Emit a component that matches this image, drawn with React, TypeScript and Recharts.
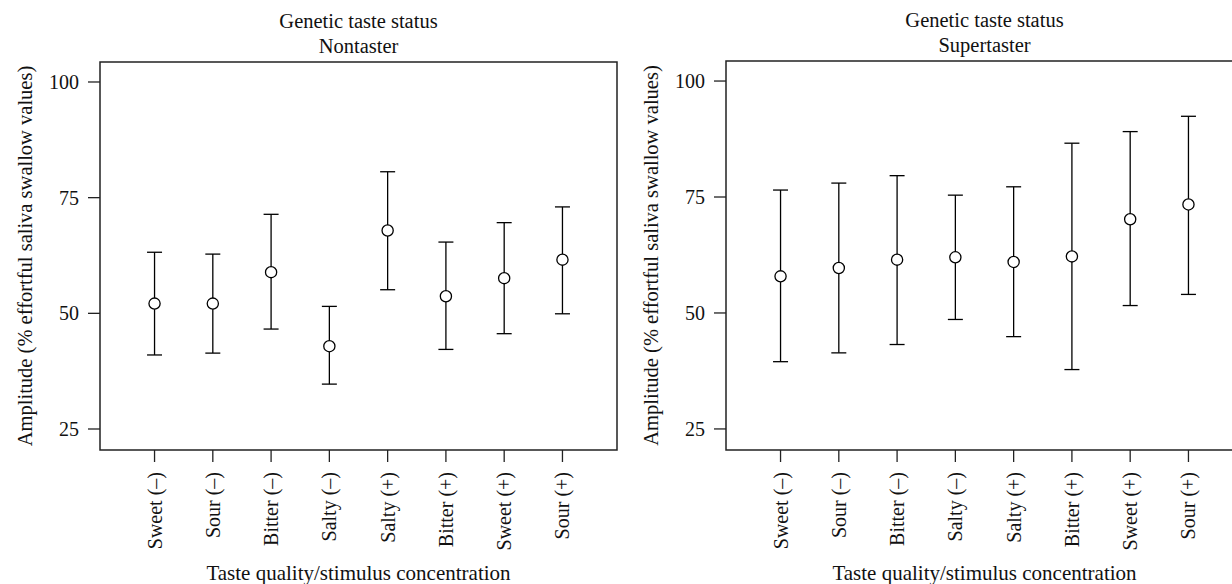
import React from "react";
import { ScatterChart, Scatter, XAxis, YAxis, ErrorBar, ReferenceArea, Label } from "recharts";

const FONT = '"Liberation Serif", "DejaVu Serif", serif';

const categories = [
  "Sweet (–)",
  "Sour (–)",
  "Bitter (–)",
  "Salty (–)",
  "Salty (+)",
  "Bitter (+)",
  "Sweet (+)",
  "Sour (+)",
];

const nontasterMean = [52.1, 52.1, 58.9, 42.9, 67.9, 53.7, 57.6, 61.6];
const nontasterLow = [41.0, 41.4, 46.6, 34.7, 55.1, 42.2, 45.6, 49.9];
const nontasterHigh = [63.2, 62.8, 71.4, 51.5, 80.6, 65.4, 69.6, 73.0];

const supertasterMean = [57.9, 59.7, 61.5, 62.0, 61.0, 62.2, 70.2, 73.4];
const supertasterLow = [39.5, 41.4, 43.2, 48.6, 44.9, 37.8, 51.6, 54.0];
const supertasterHigh = [76.5, 78.0, 79.6, 75.4, 77.2, 86.6, 89.1, 92.4];

const yTicks = [25, 50, 75, 100];
const xTicks = categories.map((_, i) => i + 1);
const xDomain = [0.064, 8.936];
const yDomain = [20.46, 104.32];

const buildRows = (mean: number[], low: number[], high: number[]) =>
  mean.map((m, i) => ({ x: i + 1, y: m, err: [m - low[i], high[i] - m] }));

const CatTick = (props: any) => {
  const { x, y, payload } = props;
  const ty = y + 8;
  return (
    <text
      x={x}
      y={ty}
      transform={`rotate(-90 ${x} ${ty})`}
      textAnchor="end"
      dominantBaseline="central"
      fontSize={20}
      fontFamily={FONT}
      fill="#111"
    >
      {categories[payload.value - 1]}
    </text>
  );
};

const Dot = (props: any) => (
  <circle cx={props.cx} cy={props.cy} r={5.6} fill="#fff" stroke="#000" strokeWidth={1.3} />
);

const YTitle = (props: any) => {
  const vb = props.viewBox;
  const cx = vb.x + 25;
  const cy = vb.y + vb.height / 2;
  return (
    <text
      x={cx}
      y={cy}
      transform={`rotate(-90 ${cx} ${cy})`}
      textAnchor="middle"
      dominantBaseline="central"
      fontSize={20.5}
      fontFamily={FONT}
      fill="#111"
    >
      Amplitude (% effortful saliva swallow values)
    </text>
  );
};

const XTitle = (props: any) => {
  const vb = props.viewBox;
  return (
    <text
      x={vb.x + vb.width / 2}
      y={573}
      textAnchor="middle"
      dominantBaseline="central"
      fontSize={21}
      fontFamily={FONT}
      fill="#111"
    >
      Taste quality/stimulus concentration
    </text>
  );
};

const Panel = ({ rows, subtitle, left, width, top, right }: any) => {
  const plotLeft = 100;
  const plotWidth = width - plotLeft - right;
  return (
    <div style={{ position: "absolute", left, top: 0, width, height: 584 }}>
      <div
        style={{
          position: "absolute",
          left: plotLeft,
          width: plotWidth,
          top: top - 53,
          textAlign: "center",
          fontFamily: FONT,
          fontSize: 20.5,
          lineHeight: "25px",
          color: "#111",
        }}
      >
        <div>Genetic taste status</div>
        <div>{subtitle}</div>
      </div>
      <ScatterChart width={width} height={584} margin={{ top, right, bottom: 0, left: 0 }}>
        <XAxis
          type="number"
          dataKey="x"
          domain={xDomain}
          ticks={xTicks}
          interval={0}
          tickSize={12}
          axisLine={false}
          tickLine={{ stroke: "#222", strokeWidth: 1.3 }}
          tick={<CatTick />}
          height={584 - 450}
        >
          <Label content={<XTitle />} />
        </XAxis>
        <YAxis
          type="number"
          dataKey="y"
          domain={yDomain}
          ticks={yTicks}
          tickSize={12}
          tickMargin={9}
          axisLine={false}
          width={plotLeft}
          tickLine={{ stroke: "#222", strokeWidth: 1.3 }}
          tick={{ fill: "#111", fontSize: 20, fontFamily: FONT }}
        >
          <Label content={<YTitle />} />
        </YAxis>
        <ReferenceArea
          x1={xDomain[0]}
          x2={xDomain[1]}
          y1={yDomain[0]}
          y2={yDomain[1]}
          fill="none"
          stroke="#222"
          strokeWidth={1.5}
        />
        <Scatter data={rows} shape={<Dot />} isAnimationActive={false}>
          <ErrorBar dataKey="err" direction="y" width={7.5} stroke="#000" strokeWidth={1.3} />
        </Scatter>
      </ScatterChart>
    </div>
  );
};

export default function App() {
  return (
    <div
      style={{
        position: "absolute",
        left: 0,
        top: 0,
        width: 1232,
        height: 584,
        overflow: "hidden",
        background: "#fff",
      }}
    >
      <Panel
        rows={buildRows(nontasterMean, nontasterLow, nontasterHigh)}
        subtitle="Nontaster"
        left={0}
        width={626}
        top={62}
        right={9}
      />
      <Panel
        rows={buildRows(supertasterMean, supertasterLow, supertasterHigh)}
        subtitle="Supertaster"
        left={626}
        width={640}
        top={61}
        right={23}
      />
    </div>
  );
}
